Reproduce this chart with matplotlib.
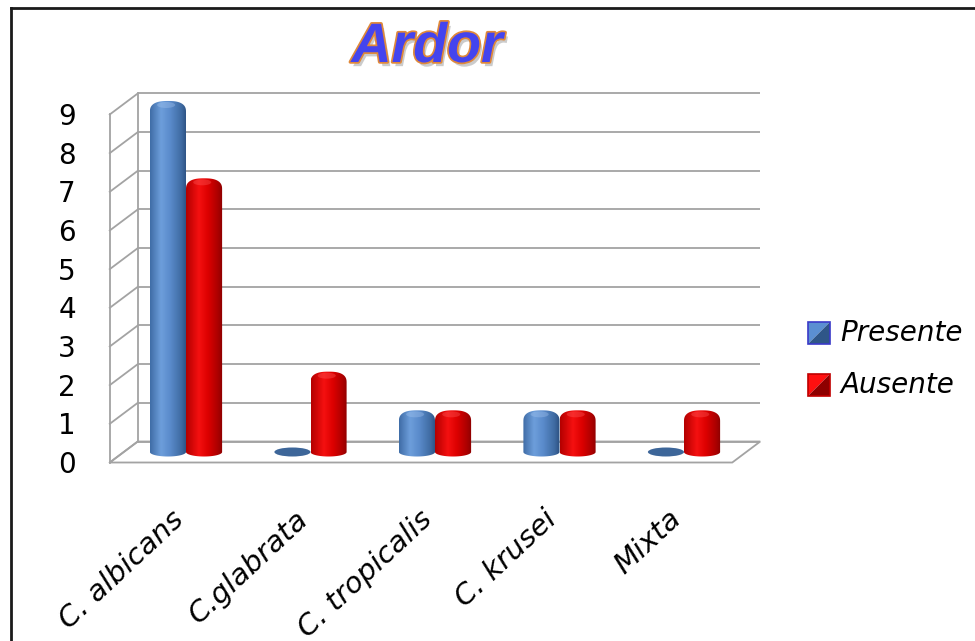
import numpy as np
import matplotlib
matplotlib.use('Agg')
import matplotlib.pyplot as plt
from matplotlib.path import Path
from matplotlib.patches import PathPatch, Polygon, Ellipse
from matplotlib.colors import LinearSegmentedColormap
import matplotlib.patheffects as pe
from matplotlib.lines import Line2D

# ---------------- data ----------------
categories = ['C. albicans', 'C.glabrata', 'C. tropicalis', 'C. krusei', 'Mixta']
presente = [9, 0, 1, 1, 0]
ausente = [7, 2, 1, 1, 1]
series_names = ['Presente', 'Ausente']
yticks = list(range(0, 10))
title_text = 'Ardor'

# ---------------- layout ----------------
W, H = 975, 641
fig = plt.figure(figsize=(W / 100, H / 100), dpi=100)
ax = fig.add_axes([100 / W, 1 - 480 / H, 675 / W, 400 / H])
ax.set_axis_off()

PX_X = 124.5   # pixels per category
PX_Y = 38.67   # pixels per unit value
ax.set_xlim((100 - 186) / PX_X, (775 - 186) / PX_X)
ax.set_ylim((452 - 480) / PX_Y, (452 - 80) / PX_Y)
ax.set_autoscale_on(False)

DX = 14 / PX_X
DY = 10.5 / PX_Y
x_lo, x_hi = -0.5, len(categories) - 0.5
ymax = max(yticks)
grid_c = '#a3a3a3'
glw = 1.3
FONT = 'DejaVu Sans'

# floor
floor = Polygon([(x_lo - DX, -DY), (x_hi - DX, -DY), (x_hi + DX, DY), (x_lo + DX, DY)],
                closed=True, facecolor='white', edgecolor=grid_c, lw=glw, zorder=1)
ax.add_patch(floor)
# back wall gridlines and side wall lines
for v in yticks:
    ax.plot([x_lo + DX, x_hi + DX], [v + DY, v + DY], color=grid_c, lw=glw, zorder=1,
            solid_capstyle='butt')
    ax.plot([x_lo - DX, x_lo + DX], [v - DY, v + DY], color=grid_c, lw=glw, zorder=1)
ax.plot([x_lo - DX, x_lo - DX], [-DY, ymax - DY], color=grid_c, lw=glw, zorder=1)
ax.plot([x_lo + DX, x_lo + DX], [DY, ymax + DY], color=grid_c, lw=glw, zorder=1)

# tick labels
for v in yticks:
    ax.text(x_lo - DX - 34 / PX_X, v - DY - 2.5 / PX_Y, str(v), ha='right', va='center',
            fontsize=20, family=FONT, color='black', clip_on=False)

# category labels
for i, c in enumerate(categories):
    lx = i - 16 / PX_X
    ax.text(lx, (452 - 505) / PX_Y, c, rotation=43, rotation_mode='anchor',
            ha='right', va='top', fontsize=21, style='italic', family=FONT,
            clip_on=False)

# ---------------- cylinders ----------------
blue_cmap = LinearSegmentedColormap.from_list('b', [
    (0.0, '#3f6ca6'), (0.3, '#6d9edb'), (0.55, '#5a8bcb'), (0.85, '#3f6ba2'), (1.0, '#2b5080')])
red_cmap = LinearSegmentedColormap.from_list('r', [
    (0.0, '#b30000'), (0.35, '#f51010'), (0.6, '#dc0000'), (0.88, '#a80000'), (1.0, '#8a0000')])

bw = 0.29
eh = 4.5 / PX_Y
cap_h = 11 / PX_Y
cap_base = 8 / PX_Y
grad = np.linspace(0, 1, 256).reshape(1, -1)


def cylinder(xc, v, cmap, flat_color, top_light):
    r = bw / 2
    xl, xr = xc - r, xc + r
    if v <= 0:
        e = Ellipse((xc, 0), bw, 2 * eh, facecolor=flat_color, edgecolor='none', zorder=3)
        ax.add_patch(e)
        return
    pts = [(xl, 0), (xl, v - cap_base)]
    t = np.linspace(np.pi, 0, 60)
    n = 2.6
    cx = np.sign(np.cos(t)) * np.abs(np.cos(t)) ** (2 / n)
    cy = np.abs(np.sin(t)) ** (2 / n)
    for a, b in zip(cx, cy):
        pts.append((xc + r * a, v - cap_base + cap_h * b))
    pts.append((xr, 0))
    tb = np.linspace(0, -np.pi, 40)
    for a in tb:
        pts.append((xc + r * np.cos(a), eh * np.sin(a)))
    path = Path(pts + [pts[0]], [Path.MOVETO] + [Path.LINETO] * (len(pts) - 1) + [Path.CLOSEPOLY])
    patch = PathPatch(path, facecolor='none', edgecolor='none', zorder=3)
    ax.add_patch(patch)
    im = ax.imshow(grad, extent=[xl, xr, -eh, v + cap_h], aspect='auto', cmap=cmap,
                   zorder=3, interpolation='bilinear')
    im.set_clip_path(patch)
    hl = Ellipse((xc - 0.05 * bw, v - 1 / PX_Y), 0.5 * bw, 6 / PX_Y, facecolor=top_light,
                 edgecolor='none', alpha=0.35, zorder=4)
    ax.add_patch(hl)
    hl.set_clip_path(patch)


for i in range(len(categories)):
    cylinder(i - 0.145, presente[i], blue_cmap, '#3d6699', '#a9c8f0')
    cylinder(i + 0.145, ausente[i], red_cmap, '#b00000', '#ff6060')

# ---------------- legend ----------------
def px(x, y):
    return (x / W, 1 - y / H)

def legend_square(x0, y0, s, c_tl, c_br, edge):
    tl = Polygon([px(x0, y0), px(x0 + s, y0), px(x0, y0 + s)], closed=True,
                 transform=fig.transFigure, facecolor=c_tl, edgecolor='none')
    br = Polygon([px(x0 + s, y0), px(x0 + s, y0 + s), px(x0, y0 + s)], closed=True,
                 transform=fig.transFigure, facecolor=c_br, edgecolor='none')
    fr = Polygon([px(x0, y0), px(x0 + s, y0), px(x0 + s, y0 + s), px(x0, y0 + s)], closed=True,
                 transform=fig.transFigure, facecolor='none', edgecolor=edge, lw=1.2)
    for p in (tl, br, fr):
        fig.add_artist(p)

legend_square(808, 322, 22, '#5b8fd2', '#2f5688', '#3a3ac8')
legend_square(808, 374, 22, '#ff1010', '#8e0000', '#c00000')
fig.text(840 / W, 1 - 333 / H, series_names[0], fontsize=20, style='italic',
         family=FONT, va='center', ha='left')
fig.text(840 / W, 1 - 385 / H, series_names[1], fontsize=20, style='italic',
         family=FONT, va='center', ha='left')

# ---------------- title ----------------
fig.text(427 / W, 1 - 48 / H, title_text, fontsize=40, weight='bold', style='italic',
         family='Liberation Sans', color='#4444ee', ha='center', va='center',
         path_effects=[pe.SimplePatchShadow(offset=(2, -3), shadow_rgbFace='#999999', alpha=0.5),
                       pe.withStroke(linewidth=2.5, foreground='#e0893a')])

# ---------------- frame ----------------
fig.add_artist(Line2D([11 / W, 11 / W], [0, 1 - 8 / H], transform=fig.transFigure,
                      color='#1a1a1a', lw=2))
fig.add_artist(Line2D([11 / W, 1], [1 - 8 / H, 1 - 8 / H], transform=fig.transFigure,
                      color='#1a1a1a', lw=2))

fig.savefig('out.png', dpi=100, facecolor='white')
